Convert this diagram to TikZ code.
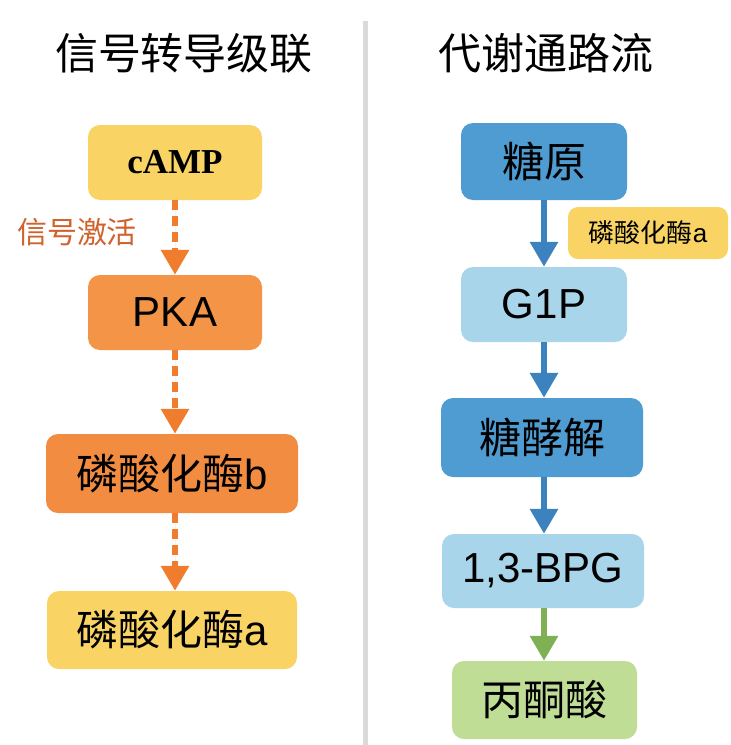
\documentclass[tikz,border=0pt]{standalone}
\usepackage{fontspec}
\setmainfont{Liberation Sans}
\newfontfamily\cjk{Noto Sans CJK SC}
\newfontfamily\serifb{Liberation Serif}
\usetikzlibrary{arrows.meta}
\definecolor{yel}{HTML}{F9D465}
\definecolor{orA}{HTML}{F49447}
\definecolor{orB}{HTML}{F28C40}
\definecolor{bluD}{HTML}{4F9CD2}
\definecolor{bluL}{HTML}{A9D5EB}
\definecolor{grn}{HTML}{BFDD95}
\definecolor{oarr}{HTML}{EF7D2D}
\definecolor{olab}{HTML}{D0622C}
\definecolor{barr}{HTML}{3B82BF}
\definecolor{garr}{HTML}{80B054}
\definecolor{divgray}{HTML}{DADADA}
\begin{document}
\begin{tikzpicture}[x=1pt,y=-1pt,
  box/.style={rounded corners=12pt, inner sep=0pt, align=center, text=black,
    font=\fontsize{42}{50}\selectfont},
  ttl/.style={font=\cjk\fontsize{43}{50}\selectfont, text=black, inner sep=0pt},
  tip/.style={-{Triangle[width=27pt,length=25pt]}},
  oarrow/.style={tip, draw=oarr, fill=oarr, line width=6pt, dash pattern=on 10pt off 6pt},
  barrow/.style={tip, draw=barr, fill=barr, line width=6pt},
  garrow/.style={tip, draw=garr, fill=garr, line width=6pt}]
\useasboundingbox (0,0) rectangle (731,745);
\fill[white] (0,0) rectangle (731,745);
% divider
\coordinate (dtop) at (365,21);
\coordinate (dbot) at (365,745);
\draw[line width=5pt, divgray] (dtop) -- (dbot);
% titles
\node[ttl] (t1) at (184,53) {信号转导级联};
\node[ttl] (t2) at (546,53) {代谢通路流};
% left column
\node[box, fill=yel, minimum width=174pt, minimum height=75pt] (camp) at (175,162.5)
  {\serifb\bfseries\fontsize{35}{40}\selectfont cAMP};
\node[box, fill=orA, minimum width=174pt, minimum height=75pt] (pka) at (175,312.5) {PKA};
\node[box, fill=orB, minimum width=252pt, minimum height=79pt] (phb) at (172,473.5) {{\cjk 磷酸化酶}b};
\node[box, fill=yel, minimum width=250pt, minimum height=78pt] (pha) at (172,630) {{\cjk 磷酸化酶}a};
\node[inner sep=0pt, text=olab, font=\cjk\fontsize{30}{34}\selectfont] (sig) at (77,232) {信号激活};
\draw[oarrow] (camp.south) -- (pka.north);
\draw[oarrow] (pka.south) -- (pka.south |- phb.north);
\draw[oarrow] (pka.south |- phb.south) -- (pka.south |- pha.north);
% right column
\node[box, fill=bluD, minimum width=166pt, minimum height=77pt] (gly) at (544,161.5) {{\cjk 糖原}};
\node[box, fill=bluL, minimum width=166pt, minimum height=75pt] (g1p) at (544,304.5) {G1P};
\node[box, fill=bluD, minimum width=202pt, minimum height=79pt] (glc) at (542,437.5) {{\cjk 糖酵解}};
\node[box, fill=bluL, minimum width=202pt, minimum height=74pt] (bpg) at (543,571) {1,3-BPG};
\node[box, fill=grn, minimum width=185pt, minimum height=78pt] (pyr) at (544.5,700) {{\cjk 丙酮酸}};
\node[box, fill=yel, rounded corners=10pt, minimum width=160pt, minimum height=52pt,
  font=\fontsize{26}{30}\selectfont] (enz) at (648,233) {{\cjk 磷酸化酶}a};
\draw[barrow] (gly.south) -- (g1p.north);
\draw[barrow] (g1p.south) -- (g1p.south |- glc.north);
\draw[barrow] (g1p.south |- glc.south) -- (g1p.south |- bpg.north);
\draw[garrow] (g1p.south |- bpg.south) -- (g1p.south |- pyr.north);
\end{tikzpicture}
\end{document}
